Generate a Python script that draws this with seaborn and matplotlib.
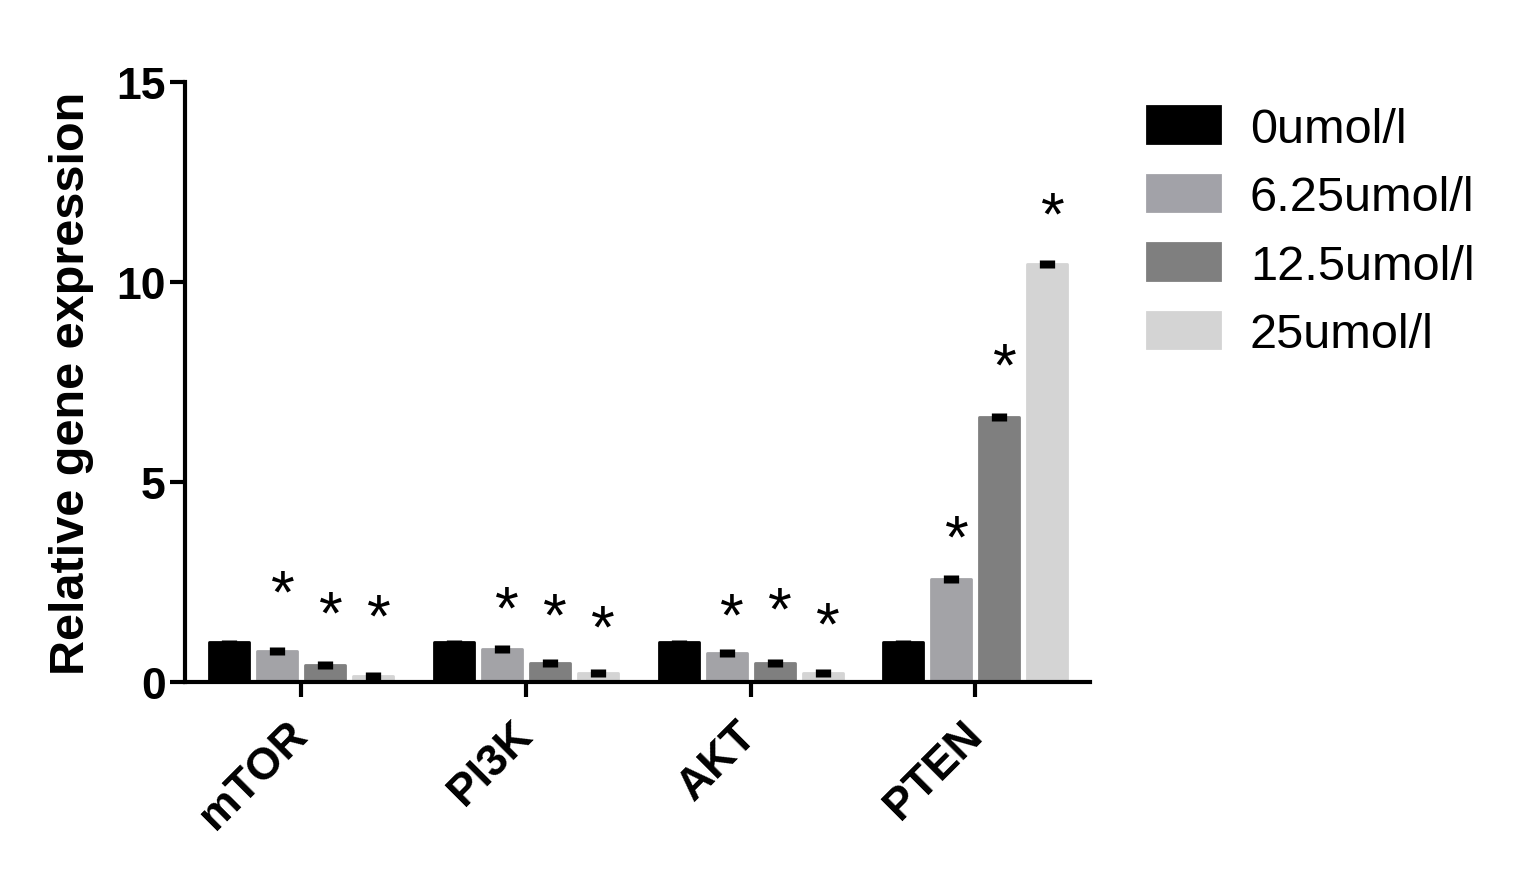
import numpy as np
import pandas as pd
import seaborn as sns
import matplotlib.pyplot as plt
from matplotlib.patches import Patch
from matplotlib.transforms import offset_copy

genes = ['mTOR', 'PI3K', 'AKT', 'PTEN']
doses = ['0umol/l', '6.25umol/l', '12.5umol/l', '25umol/l']

mean_0 = [1.0, 1.0, 1.0, 1.0]
mean_625 = [0.78, 0.82, 0.72, 2.58]
mean_125 = [0.42, 0.47, 0.47, 6.62]
mean_25 = [0.16, 0.22, 0.22, 10.45]

sem_0 = [0.05, 0.05, 0.05, 0.05]
sem_625 = [0.1, 0.1, 0.1, 0.1]
sem_125 = [0.1, 0.1, 0.1, 0.1]
sem_25 = [0.1, 0.1, 0.1, 0.1]

# height of the significance stars (data units)
star_625 = [2.5, 2.1, 1.92, 3.87]
star_125 = [1.97, 1.92, 2.07, 8.17]
star_25 = [1.9, 1.62, 1.7, 11.95]

colors = ['#000000', '#a2a2a8', '#7f7f7f', '#d4d4d4']

sems = [sem_0, sem_625, sem_125, sem_25]
stars = [None, star_625, star_125, star_25]

df = pd.DataFrame({
    'gene': genes * len(doses),
    'dose': np.repeat(doses, len(genes)),
    'value': mean_0 + mean_625 + mean_125 + mean_25,
})

sns.set_style('ticks')
plt.rcParams['font.family'] = ['Liberation Sans', 'DejaVu Sans']
plt.rcParams['text.color'] = 'black'
plt.rcParams['axes.labelcolor'] = 'black'
plt.rcParams['xtick.color'] = 'black'
plt.rcParams['ytick.color'] = 'black'

fig = plt.figure(figsize=(15.15, 8.87), dpi=100)
ax = fig.add_axes([0.1221, 0.23, 0.5974, 0.6764])

sns.barplot(data=df, x='gene', y='value', hue='dose', order=genes, hue_order=doses,
            palette=dict(zip(doses, colors)), width=0.854, gap=0.17,
            errorbar=None, legend=False, ax=ax)

for p in ax.patches:
    p.set_edgecolor(p.get_facecolor())
    p.set_linewidth(2)
    p.set_joinstyle('round')

bar_conts = list(ax.containers)
star_tr = offset_copy(ax.transData, fig=fig, x=4, y=-10, units='points')
for i, cont in enumerate(bar_conts):
    for j, bar in enumerate(cont):
        x = bar.get_x() + bar.get_width() / 2
        ax.errorbar(x, bar.get_height(), yerr=sems[i][j], fmt='none',
                    ecolor='black', elinewidth=11, capsize=0, zorder=5)
        if stars[i] is not None:
            ax.text(x, stars[i][j], '*', transform=star_tr, ha='center', va='center',
                    fontsize=44, color='black')

ax.set_ylim(0, 15)
ax.set_yticks([0, 5, 10, 15])
ax.set_xlim(-0.516, 3.51)
ax.set_xlabel('')
ax.set_ylabel('Relative gene expression', fontsize=35, fontweight='bold', labelpad=16)

sns.despine(ax=ax)
for s in ['left', 'bottom']:
    ax.spines[s].set_linewidth(3)
    ax.spines[s].set_color('black')
ax.tick_params(axis='both', length=11, width=3, color='black', labelsize=32,
               labelcolor='black', pad=3)
for lab in ax.get_yticklabels():
    lab.set_fontweight('bold')
ax.set_xticks(range(len(genes)))
ax.set_xticklabels(genes, rotation=45, ha='right', va='center', rotation_mode='anchor',
                   fontweight='bold')
ax.tick_params(axis='x', pad=22)

handles = [Patch(facecolor=c, edgecolor=c, linewidth=2, joinstyle='round') for c in colors]
fig.legend(handles, doses, loc='upper left', bbox_to_anchor=(0.757, 0.879),
           frameon=False, fontsize=35, handlelength=1.5, handleheight=0.78,
           handletextpad=0.62, labelspacing=0.48, borderpad=0, borderaxespad=0)

fig.savefig('out.png', dpi=100, facecolor='white')
